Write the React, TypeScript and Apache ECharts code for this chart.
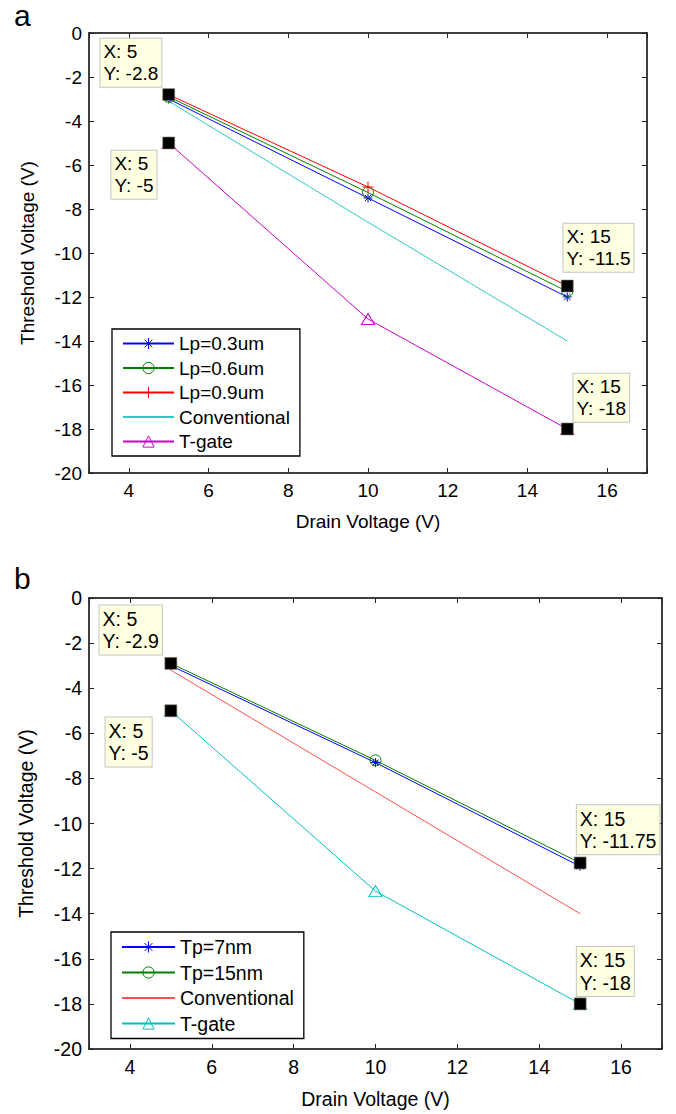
import React, { useEffect, useRef } from "react";
import * as echarts from "echarts";

// ---------- data ----------
const xValues = [5, 10, 15];

// panel a
const aLp03 = [-3.0, -7.5, -12.0];
const aLp06 = [-2.9, -7.25, -11.75];
const aLp09 = [-2.8, -7.0, -11.5];
const aConventional = [-3.1, -8.6, -14.0];
const aTgate = [-5, -13, -18];
const aTips = [
  [5, -2.8],
  [5, -5],
  [15, -11.5],
  [15, -18],
];

// panel b
const bTp7 = [-3.0, -7.3, -11.9];
const bTp15 = [-2.9, -7.2, -11.75];
const bConventional = [-3.2, -8.6, -14.0];
const bTgate = [-5, -13, -18];
const bTips = [
  [5, -2.9],
  [5, -5],
  [15, -11.75],
  [15, -18],
];

const xAxisName = "Drain Voltage (V)";
const yAxisName = "Threshold Voltage (V)";

// ---------- styling ----------
const FONT = "'Liberation Sans', Arial, Helvetica, sans-serif";
const ASTERISK = "path://M5,0L5,10M0,5L10,5M1.5,1.5L8.5,8.5M8.5,1.5L1.5,8.5";
const PLUS = "path://M5,0L5,10M0,5L10,5";

type SeriesDef = {
  name: string;
  values: number[];
  color: string;
  symbol: string;
  symbolSize: number | number[];
  hollow?: boolean;
};

type PanelCfg = {
  letter: string;
  letterY: number;
  grid: { left: number; top: number; width: number; height: number };
  legend: { left: number; top: number; itemWidth: number; itemGap: number };
  series: SeriesDef[];
  tips: number[][];
  tipOffsets: number[][];
  fontSize: number;
  lineHeight: number;
  xNameGap: number;
  yNameGap: number;
};

function buildOption(cfg: PanelCfg) {
  const fs = cfg.fontSize;
  const axisLine = {
    show: true,
    onZero: false,
    lineStyle: { color: "#000", width: 1.5 },
  };
  const axisTick = {
    show: true,
    inside: true,
    length: 5,
    lineStyle: { color: "#222", width: 1 },
  };
  const xCommon = {
    type: "value",
    min: 3,
    max: 17,
    splitNumber: 7,
    axisLine,
    axisTick,
    splitLine: { show: false },
  };
  const yCommon = {
    type: "value",
    min: -20,
    max: 0,
    interval: 2,
    axisLine,
    axisTick,
    splitLine: { show: false },
  };
  const lineSeries = cfg.series.map((s) => ({
    type: "line",
    name: s.name,
    data: xValues.map((x, i) => [x, s.values[i]]),
    symbol: s.symbol,
    symbolSize: s.symbolSize,
    showSymbol: s.symbol !== "none",
    lineStyle: { color: s.color, width: 1 },
    itemStyle: s.hollow
      ? { color: "rgba(255,255,255,0)", borderColor: s.color, borderWidth: 1 }
      : { color: s.color, borderColor: s.color, borderWidth: 1 },
    emphasis: { disabled: true },
    silent: true,
    z: 2,
  }));
  const legendData = cfg.series.map((s) => {
    if (s.symbol === "none") return { name: s.name, itemStyle: { opacity: 0 } };
    if (s.hollow)
      return {
        name: s.name,
        itemStyle: { color: "rgba(255,255,255,0)", borderColor: s.color, borderWidth: 1 },
      };
    return { name: s.name, itemStyle: { color: s.color, borderColor: s.color, borderWidth: 1 } };
  });
  const tipSeries = {
    type: "scatter",
    z: 10,
    symbol: "rect",
    symbolSize: 12,
    itemStyle: { color: "#000", borderColor: "#8c8c6e", borderWidth: 0.6, opacity: 1 },
    label: {
      show: true,
      formatter: (p: any) => `X: ${p.value[0]}\nY: ${p.value[1]}`,
      fontSize: fs,
      lineHeight: cfg.lineHeight,
      fontFamily: FONT,
      color: "#000",
      backgroundColor: "#ffffe1",
      borderColor: "#c4c4c4",
      borderWidth: 1,
      padding: [2, 3, 2, 3],
      align: "left",
      verticalAlign: "top",
    },
    emphasis: { disabled: true },
    silent: true,
    data: cfg.tips.map((t, i) => ({ value: t, label: { position: cfg.tipOffsets[i] } })),
  };

  return {
    animation: false,
    backgroundColor: "#fff",
    grid: { ...cfg.grid, containLabel: false },
    xAxis: [
      {
        ...xCommon,
        position: "bottom",
        name: xAxisName,
        nameLocation: "middle",
        nameGap: cfg.xNameGap,
        nameTextStyle: { fontSize: fs, fontFamily: FONT, color: "#000" },
        axisLabel: {
          margin: 8,
          fontSize: fs,
          fontFamily: FONT,
          color: "#000",
          formatter: (v: number) => (v % 2 === 0 ? String(v) : ""),
        },
      },
      { ...xCommon, position: "top", axisLabel: { show: false } },
    ],
    yAxis: [
      {
        ...yCommon,
        position: "left",
        name: yAxisName,
        nameLocation: "middle",
        nameGap: cfg.yNameGap,
        nameTextStyle: { fontSize: fs, fontFamily: FONT, color: "#000" },
        axisLabel: { margin: 7, fontSize: fs, fontFamily: FONT, color: "#000" },
      },
      { ...yCommon, position: "right", axisLabel: { show: false } },
    ],
    legend: {
      orient: "vertical",
      left: cfg.legend.left,
      top: cfg.legend.top,
      itemWidth: cfg.legend.itemWidth,
      itemHeight: 14,
      itemGap: cfg.legend.itemGap,
      padding: [5, 10, 5, 10],
      borderColor: "#000",
      borderWidth: 1.3,
      backgroundColor: "#fff",
      selectedMode: false,
      textStyle: { fontSize: fs, fontFamily: FONT, color: "#000" },
      data: legendData,
    },
    graphic: [
      {
        type: "text",
        left: 14,
        top: cfg.letterY,
        style: { text: cfg.letter, fontSize: 30, fontFamily: FONT, fill: "#000" },
      },
    ],
    series: [...lineSeries, tipSeries],
  };
}

const panelA: PanelCfg = {
  letter: "a",
  letterY: 0,
  grid: { left: 89, top: 33, width: 558, height: 440 },
  legend: { left: 112, top: 329, itemWidth: 51, itemGap: 5.5 },
  series: [
    { name: "Lp=0.3um", values: aLp03, color: "#0000ff", symbol: ASTERISK, symbolSize: 9 },
    { name: "Lp=0.6um", values: aLp06, color: "#008000", symbol: "circle", symbolSize: 11, hollow: true },
    { name: "Lp=0.9um", values: aLp09, color: "#ff0000", symbol: PLUS, symbolSize: 11 },
    { name: "Conventional", values: aConventional, color: "#30c8c8", symbol: "none", symbolSize: 0 },
    { name: "T-gate", values: aTgate, color: "#c800c8", symbol: "triangle", symbolSize: [13, 11], hollow: true },
  ],
  tips: aTips,
  tipOffsets: [
    [-62, -49.5],
    [-51, 14],
    [2.5, -56],
    [12.5, -49],
  ],
  fontSize: 19,
  lineHeight: 22,
  xNameGap: 39,
  yNameGap: 52,
};

const panelB: PanelCfg = {
  letter: "b",
  letterY: 6,
  grid: { left: 89, top: 41, width: 573, height: 452 },
  legend: { left: 111, top: 375, itemWidth: 53, itemGap: 5.5 },
  series: [
    { name: "Tp=7nm", values: bTp7, color: "#0000ff", symbol: ASTERISK, symbolSize: 9 },
    { name: "Tp=15nm", values: bTp15, color: "#008000", symbol: "circle", symbolSize: 11, hollow: true },
    { name: "Conventional", values: bConventional, color: "#ff5050", symbol: "none", symbolSize: 0 },
    { name: "T-gate", values: bTgate, color: "#00c0c0", symbol: "triangle", symbolSize: [13, 11], hollow: true },
  ],
  tips: bTips,
  tipOffsets: [
    [-65, -51.5],
    [-59, 13],
    [3, -51.3],
    [3, -50.7],
  ],
  fontSize: 19.5,
  lineHeight: 22.5,
  xNameGap: 40,
  yNameGap: 53,
};

function Panel({ cfg, top }: { cfg: PanelCfg; top: number }) {
  const ref = useRef<HTMLDivElement>(null);
  useEffect(() => {
    if (!ref.current) return;
    const chart = echarts.init(ref.current, undefined, { renderer: "svg" });
    chart.setOption(buildOption(cfg) as any);
    return () => chart.dispose();
  }, [cfg]);
  return (
    <div
      ref={ref}
      style={{ position: "absolute", left: 0, top, width: 676, height: 557 }}
    />
  );
}

export default function App() {
  return (
    <div style={{ position: "absolute", left: 0, top: 0, width: 676, height: 1114, background: "#fff" }}>
      <Panel cfg={panelA} top={0} />
      <Panel cfg={panelB} top={557} />
    </div>
  );
}
